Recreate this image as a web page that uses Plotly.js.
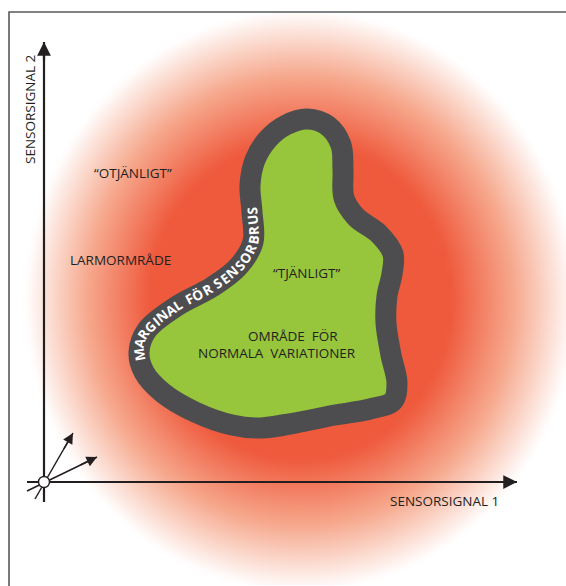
<!DOCTYPE html>
<html><head><meta charset="utf-8">
<script src="https://cdn.plot.ly/plotly-3.0.1.min.js"></script>
<style>html,body{margin:0;padding:0;background:#fff}#chart{width:566px;height:586px}</style>
</head><body><div id="chart"></div>
<script>
// ---- DATA (diagram in pixel-like units: x 0..566, y 0..586 downward) ----
// Centerline of the grey "margin" band around the green normal region
const blobX = [300,262,232,195,163,144,139,147,177,212,238,253,252,250,255,268,286,307,328,341,343,344,356,379,393,392,387,386,391,397,393,370,335];
const blobY = [422,428,425,412,393,372,352,330,306,287,267,242,212,185,160,139,125,119,126,145,170,198,217,234,254,274,296,323,355,383,401,409,415];

// Curved label running along the band
const marginText = 'MARGINAL FÖR SENSORBRUS';
const marginPathX = [150,139,147,177,212,238,253,252,250];
const marginPathY = [385,352,330,306,287,267,242,212,185];
const marginStart = [137, 362];
const marginEnd = [259, 207];

// Plain text labels
const labelText = ['SENSORSIGNAL 2', '“OTJÄNLIGT”', 'LARMORMRÅDE', '“TJÄNLIGT”', 'OMRÅDE  FÖR', 'NORMALA  VARIATIONER', 'SENSORSIGNAL 1'];
const labelX = [30, 133, 120, 307, 293, 277, 444];
const labelY = [110, 173, 260, 273, 336, 353, 501];
const labelAngle = [-90, 0, 0, 0, 0, 0, 0];

// Axis arrows (tail -> head)
const arrowTailX = [27, 44, 35, 27];
const arrowTailY = [482, 502, 499, 491];
const arrowHeadX = [517, 44, 73, 97];
const arrowHeadY = [482, 42, 433, 457];
const arrowWidth = [2.2, 2.2, 1.5, 1.5];
const originX = [44];
const originY = [482];

// Alarm zone (red radial fade)
const zoneCenter = [300, 300];
const zoneRadius = [275, 290];
const zoneCore = 0.55;

// Frame
const frameX = [566, 9, 9];
const frameY = [12, 12, 586];

// ---- BUILD ----
const W = 566, H = 586;
const traces = [];

// gradient heatmap
const gx = [], gy = [], gz = [];
for (let x = 0; x <= W; x += 6) gx.push(x);
for (let y = 0; y <= H; y += 6) gy.push(y);
for (const y of gy) {
  const row = [];
  for (const x of gx) {
    const dx = (x - zoneCenter[0]) / zoneRadius[0];
    const dy = (y - zoneCenter[1]) / zoneRadius[1];
    const t = Math.sqrt(dx * dx + dy * dy);
    let v = (1 - t) / (1 - zoneCore);
    v = Math.max(0, Math.min(1, v));
    row.push(v);
  }
  gz.push(row);
}
traces.push({
  type: 'heatmap', x: gx, y: gy, z: gz, zmin: 0, zmax: 1, zsmooth: 'best',
  colorscale: [[0, '#ffffff'], [0.5, '#f6a88d'], [1, '#ef5a3d']],
  showscale: false, hoverinfo: 'skip'
});

// blob
traces.push({
  type: 'scatter', mode: 'lines',
  x: blobX.concat([blobX[0], blobX[1]]), y: blobY.concat([blobY[0], blobY[1]]),
  line: {shape: 'spline', smoothing: 1, width: 21, color: '#4d4d4f'},
  fill: 'toself', fillcolor: '#97c53c', hoverinfo: 'skip'
});

// axis lines
for (let i = 0; i < 4; i++) {
  traces.push({
    type: 'scatter', mode: 'lines',
    x: [arrowTailX[i], arrowHeadX[i]], y: [arrowTailY[i], arrowHeadY[i]],
    line: {width: arrowWidth[i], color: '#231f20'}, hoverinfo: 'skip'
  });
}
// origin circle
traces.push({
  type: 'scatter', mode: 'markers', x: originX, y: originY,
  marker: {size: 11, color: '#ffffff', line: {width: 1.4, color: '#231f20'}}, hoverinfo: 'skip'
});

const annotations = [];
// arrowheads
for (let i = 0; i < 4; i++) {
  const dx = arrowHeadX[i] - arrowTailX[i], dy = arrowHeadY[i] - arrowTailY[i];
  const L = Math.hypot(dx, dy);
  annotations.push({
    x: arrowHeadX[i], y: arrowHeadY[i], xref: 'x', yref: 'y',
    ax: arrowHeadX[i] - dx / L * 20, ay: arrowHeadY[i] - dy / L * 20, axref: 'x', ayref: 'y',
    text: '', showarrow: true, arrowhead: 2, arrowsize: i < 2 ? 1.25 : 1.4,
    arrowwidth: arrowWidth[i], arrowcolor: '#231f20', standoff: 0
  });
}
// labels
for (let i = 0; i < labelText.length; i++) {
  annotations.push({
    x: labelX[i], y: labelY[i], xref: 'x', yref: 'y', text: labelText[i], showarrow: false,
    textangle: labelAngle[i], xanchor: 'center', yanchor: 'middle',
    font: {family: 'Open Sans', size: 13.5, color: '#231f20'}
  });
}

// curved text along band
(function () {
  const P = marginPathX.map((x, i) => [x, marginPathY[i]]);
  const pts = [];
  const n = P.length, steps = 30;
  for (let i = 0; i < n - 1; i++) {
    const p0 = P[Math.max(i - 1, 0)], p1 = P[i], p2 = P[i + 1], p3 = P[Math.min(i + 2, n - 1)];
    for (let s = 0; s < steps; s++) {
      const t = s / steps, t2 = t * t, t3 = t2 * t;
      const f = k => 0.5 * (2 * p1[k] + (-p0[k] + p2[k]) * t + (2 * p0[k] - 5 * p1[k] + 4 * p2[k] - p3[k]) * t2 + (-p0[k] + 3 * p1[k] - 3 * p2[k] + p3[k]) * t3);
      pts.push([f(0), f(1)]);
    }
  }
  pts.push(P[n - 1]);
  const arc = [0];
  for (let i = 1; i < pts.length; i++) arc.push(arc[i - 1] + Math.hypot(pts[i][0] - pts[i - 1][0], pts[i][1] - pts[i - 1][1]));
  const nearest = q => { let b = 0, bd = 1e9; pts.forEach((p, i) => { const d = Math.hypot(p[0] - q[0], p[1] - q[1]); if (d < bd) { bd = d; b = i; } }); return arc[b]; };
  const s0 = nearest(marginStart), s1 = nearest(marginEnd);
  const fontSize = 13.5;
  const ctx = document.createElement('canvas').getContext('2d');
  ctx.font = 'bold ' + fontSize + 'px "Open Sans"';
  const chars = Array.from(marginText);
  const widths = chars.map(c => ctx.measureText(c).width);
  const total = widths.reduce((a, b) => a + b, 0);
  const extra = (s1 - s0 - total) / (chars.length - 1);
  const at = s => {
    let i = 1; while (i < arc.length - 1 && arc[i] < s) i++;
    const a = pts[i - 1], b = pts[i];
    const f = (s - arc[i - 1]) / Math.max(1e-6, arc[i] - arc[i - 1]);
    return {x: a[0] + (b[0] - a[0]) * f, y: a[1] + (b[1] - a[1]) * f, ang: Math.atan2(b[1] - a[1], b[0] - a[0]) * 180 / Math.PI};
  };
  let s = s0;
  chars.forEach((c, i) => {
    const mid = s + widths[i] / 2;
    if (c !== ' ') {
      const p = at(mid);
      annotations.push({
        x: p.x, y: p.y, xref: 'x', yref: 'y', text: '<b>' + c + '</b>', showarrow: false,
        textangle: p.ang, xanchor: 'center', yanchor: 'middle',
        font: {family: 'Open Sans', size: fontSize, color: '#ffffff'}
      });
    }
    s += widths[i] + extra;
  });
})();

const shapes = [{
  type: 'path', layer: 'above',
  path: 'M' + frameX[0] + ',' + frameY[0] + ' L' + frameX[1] + ',' + frameY[1] + ' L' + frameX[2] + ',' + frameY[2],
  line: {color: '#58595b', width: 1.6}, xref: 'x', yref: 'y'
}];

const layout = {
  width: W, height: H, margin: {l: 0, r: 0, t: 0, b: 0},
  paper_bgcolor: '#ffffff', plot_bgcolor: '#ffffff', showlegend: false,
  xaxis: {range: [0, W], visible: false, fixedrange: true},
  yaxis: {range: [H, 0], visible: false, fixedrange: true},
  annotations: annotations, shapes: shapes
};
Plotly.newPlot('chart', traces, layout, {displayModeBar: false, staticPlot: true});
</script>
</body></html>
